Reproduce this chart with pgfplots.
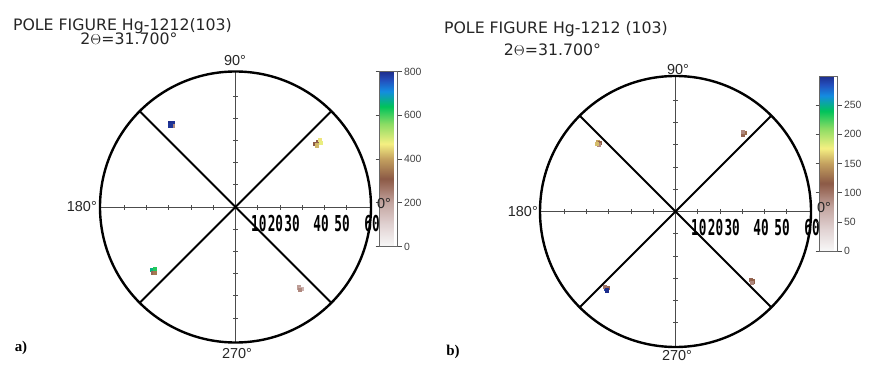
\documentclass[border=0pt]{standalone}
\usepackage{pgfplots}
\pgfplotsset{compat=1.18}
\usepackage{fontspec}
\setmainfont{DejaVu Sans}
\newfontfamily\titlefont{DejaVu Sans}
\newfontfamily\arialf{Liberation Sans}
\newfontfamily\serifbf{Liberation Serif}
\newfontfamily\monof{DejaVu Sans Mono}
\tikzset{
  numlab/.style={anchor=north, inner sep=0pt, xscale=0.58, yshift=-8bp,
    font=\monof\bfseries\fontsize{22}{22}\selectfont},
}
\pgfplotsset{
  colormap={pole}{
    rgb255(0pt)=(248,248,248)
    rgb255(100pt)=(225,210,210)
    rgb255(200pt)=(195,165,160)
    rgb255(270pt)=(160,115,100)
    rgb255(310pt)=(140,90,70)
    rgb255(400pt)=(195,160,95)
    rgb255(470pt)=(245,240,130)
    rgb255(560pt)=(140,220,100)
    rgb255(640pt)=(0,195,90)
    rgb255(710pt)=(20,140,225)
    rgb255(760pt)=(35,80,190)
    rgb255(800pt)=(30,45,140)
  },
  polefig/.style={
    scale only axis, width=271bp, height=271bp,
    xmin=-61, xmax=61, ymin=-61, ymax=61,
    axis lines=middle,
    axis line style={-, line width=0.8bp, black!70},
    xtick={-50,-40,-30,-20,-10,10,20,30,40,50},
    ytick={-50,-40,-30,-20,-10,10,20,30,40,50},
    xticklabels={}, yticklabels={},
    tick align=center, major tick length=5bp,
    tick style={line width=0.8bp, black!70},
    clip=false, anchor=origin,
    colormap name=pole, colorbar,
    colorbar style={
      anchor=north west, scale only axis, width=18bp, height=175bp,
      tick align=outside, major tick length=4bp,
      yticklabel pos=right,
      /pgf/number format/assume math mode=true,
      yticklabel style={font=\arialf\fontsize{10.5}{10.5}\selectfont, text=black!75, xshift=-1bp},
      axis line style={draw=black!60, line width=0.6bp},
      tick style={draw=black!70, line width=0.6bp},
    },
  },
  spots/.style={scatter, only marks, mark=square*, mark size=1.6bp,
    scatter/use mapped color={draw=mapped color, fill=mapped color},
    point meta=explicit},
}
\begin{document}
\begin{tikzpicture}[x=1bp,y=1bp]
\useasboundingbox (0,0) rectangle (873,366);
% ---------- panel a ----------
\begin{axis}[polefig, at={(235.5bp,159bp)},
  point meta min=0, point meta max=800,
  colorbar style={at={([xshift=22bp,yshift=61.5bp]parent axis.north east)},
    ytick={0,200,400,600,800}}]
\addplot[spots] table[meta=c] {
x y c
-29.6 37.9 800
-28.3 37.9 795
-28.3 36.6 240
-29.4 36.8 790
35.9 28.6 310
37.1 29.3 300
37.8 30.3 460
36.4 27.8 420
38.3 29.0 480
-37.5 -28.2 660
-36.4 -28.0 620
-37.3 -29.4 290
-36.3 -29.5 350
28.5 -36.1 210
29.6 -36.7 170
29.0 -37.2 240
};
\draw[line width=2.4bp] (axis cs:0,0) circle[radius=61];
\draw[line width=1.8bp] (axis cs:-43.13,-43.13) -- (axis cs:43.13,43.13);
\draw[line width=1.8bp] (axis cs:-43.13,43.13) -- (axis cs:43.13,-43.13);
\node[numlab] at (axis cs:10.5,0) {10};
\node[numlab] at (axis cs:18,0) {20};
\node[numlab] at (axis cs:25.5,0) {30};
\node[numlab] at (axis cs:38.5,0) {40};
\node[numlab] at (axis cs:48,0) {50};
\node[numlab] at (axis cs:61.5,0) {60};
\end{axis}
% ---------- panel b ----------
\begin{axis}[polefig, at={(675.5bp,154.5bp)},
  point meta min=0, point meta max=300,
  colorbar style={at={([xshift=21bp,yshift=61bp]parent axis.north east)},
    ytick={0,50,100,150,200,250}}]
\addplot[spots] table[meta=c] {
x y c
-35.2 31.6 150
-34.1 30.8 120
-34.6 30.0 90
-35.5 30.6 160
30.2 34.6 110
31.1 35.4 125
30.4 35.9 90
-31.4 -34.6 290
-30.4 -34.4 110
-31.8 -33.8 100
-30.9 -35.4 300
33.8 -30.6 110
34.6 -31.4 120
34.3 -32.1 90
};
\draw[line width=2.4bp] (axis cs:0,0) circle[radius=61];
\draw[line width=1.8bp] (axis cs:-43.13,-43.13) -- (axis cs:43.13,43.13);
\draw[line width=1.8bp] (axis cs:-43.13,43.13) -- (axis cs:43.13,-43.13);
\node[numlab] at (axis cs:10.5,0) {10};
\node[numlab] at (axis cs:18,0) {20};
\node[numlab] at (axis cs:25.5,0) {30};
\node[numlab] at (axis cs:38.5,0) {40};
\node[numlab] at (axis cs:48,0) {50};
\node[numlab] at (axis cs:61.5,0) {60};
\end{axis}
% ---------- texts ----------
\begin{scope}[every node/.style={inner sep=0pt, text=black!85}]
\node[font=\titlefont\fontsize{15.8}{15.8}\selectfont] at (122.5,340) {POLE FIGURE Hg-1212(103)};
\node[font=\titlefont\fontsize{15.8}{15.8}\selectfont] at (129,327) {2$\Theta$=31.700°};
\node[font=\titlefont\fontsize{15.8}{15.8}\selectfont] at (556,337) {POLE FIGURE Hg-1212 (103)};
\node[font=\titlefont\fontsize{15.8}{15.8}\selectfont] at (552.5,316) {2$\Theta$=31.700°};
\node[font=\arialf\fontsize{14.5}{14.5}\selectfont] at (235,305) {90°};
\node[font=\arialf\fontsize{14.5}{14.5}\selectfont, anchor=east] at (97,159) {180°};
\node[font=\arialf\fontsize{14.5}{14.5}\selectfont, anchor=west] at (377,162) {0°};
\node[font=\arialf\fontsize{14.5}{14.5}\selectfont] at (237,12) {270°};
\node[font=\arialf\fontsize{14.5}{14.5}\selectfont] at (678,296) {90°};
\node[font=\arialf\fontsize{14.5}{14.5}\selectfont, anchor=east] at (538,154) {180°};
\node[font=\arialf\fontsize{14.5}{14.5}\selectfont, anchor=west] at (817,158) {0°};
\node[font=\arialf\fontsize{14.5}{14.5}\selectfont] at (677,10) {270°};
\node[font=\serifbf\bfseries\fontsize{15}{15}\selectfont, text=black] at (21,18) {a)};
\node[font=\serifbf\bfseries\fontsize{15}{15}\selectfont, text=black] at (453,14) {b)};
\end{scope}
\end{tikzpicture}
\end{document}
